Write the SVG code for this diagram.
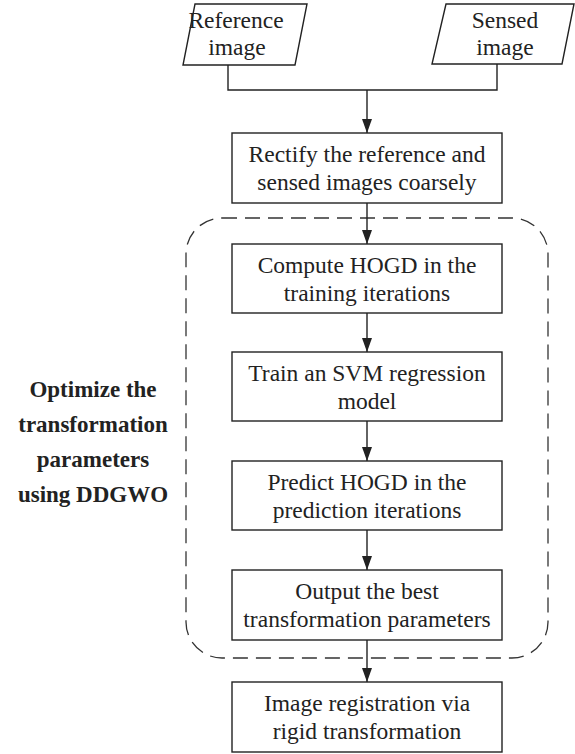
<svg xmlns="http://www.w3.org/2000/svg" width="575" height="754" viewBox="0 0 575 754">
<style>
.box{fill:#fff;stroke:#222;stroke-width:1.4}
.t{font-family:"Liberation Serif","Times New Roman",serif;font-size:23.5px;fill:#222;text-anchor:middle}
.b{font-family:"Liberation Serif","Times New Roman",serif;font-size:23px;font-weight:bold;fill:#222;text-anchor:middle}
.c{fill:none;stroke:#222;stroke-width:1.4}
</style>
<defs>
<marker id="ah" viewBox="0 0 14 12" refX="14" refY="6" markerWidth="14" markerHeight="12" markerUnits="userSpaceOnUse" orient="auto">
<path d="M0,1 L14,6 L0,11 Z" fill="#222"/>
</marker>
</defs>
<rect id="group" x="186" y="218" width="362" height="440" rx="36" ry="36" fill="none" stroke="#333" stroke-width="1.3" stroke-dasharray="15 8"/>
<g id="label">
<text class="b" x="93" y="397">Optimize the</text>
<text class="b" x="93" y="432">transformation</text>
<text class="b" x="93" y="467">parameters</text>
<text class="b" x="93" y="502">using DDGWO</text>
</g>
<g id="connectors">
<path class="c" d="M228,65 V90 H497 V64"/>
<path class="c" d="M367,90 V133" marker-end="url(#ah)"/>
<path class="c" d="M367,203 V244" marker-end="url(#ah)"/>
<path class="c" d="M367,313 V352" marker-end="url(#ah)"/>
<path class="c" d="M367,421 V461" marker-end="url(#ah)"/>
<path class="c" d="M367,530 V570" marker-end="url(#ah)"/>
<path class="c" d="M367,640 V682" marker-end="url(#ah)"/>
</g>
<g id="ref">
<polygon class="box" points="195,4 307,4 295,65 183,65"/>
<text class="t" x="236" y="28">Reference</text>
<text class="t" x="237" y="55">image</text>
</g>
<g id="sensed">
<polygon class="box" points="446,4 574,4 562,64 432,64"/>
<text class="t" x="505" y="28">Sensed</text>
<text class="t" x="505" y="55">image</text>
</g>
<g id="rectify">
<rect class="box" x="232" y="133" width="270" height="70"/>
<text class="t" x="367" y="162">Rectify the reference and</text>
<text class="t" x="367" y="190">sensed images coarsely</text>
</g>
<g id="compute">
<rect class="box" x="232" y="244" width="270" height="69"/>
<text class="t" x="367" y="273">Compute HOGD in the</text>
<text class="t" x="367" y="301">training iterations</text>
</g>
<g id="train">
<rect class="box" x="232" y="352" width="270" height="69"/>
<text class="t" x="367" y="381">Train an SVM regression</text>
<text class="t" x="367" y="409">model</text>
</g>
<g id="predict">
<rect class="box" x="232" y="461" width="270" height="69"/>
<text class="t" x="367" y="490">Predict HOGD in the</text>
<text class="t" x="367" y="518">prediction iterations</text>
</g>
<g id="output">
<rect class="box" x="232" y="570" width="270" height="70"/>
<text class="t" x="367" y="599">Output the best</text>
<text class="t" x="367" y="627">transformation parameters</text>
</g>
<g id="registration">
<rect class="box" x="232" y="682" width="270" height="70"/>
<text class="t" x="367" y="711">Image registration via</text>
<text class="t" x="367" y="739">rigid transformation</text>
</g>
</svg>
